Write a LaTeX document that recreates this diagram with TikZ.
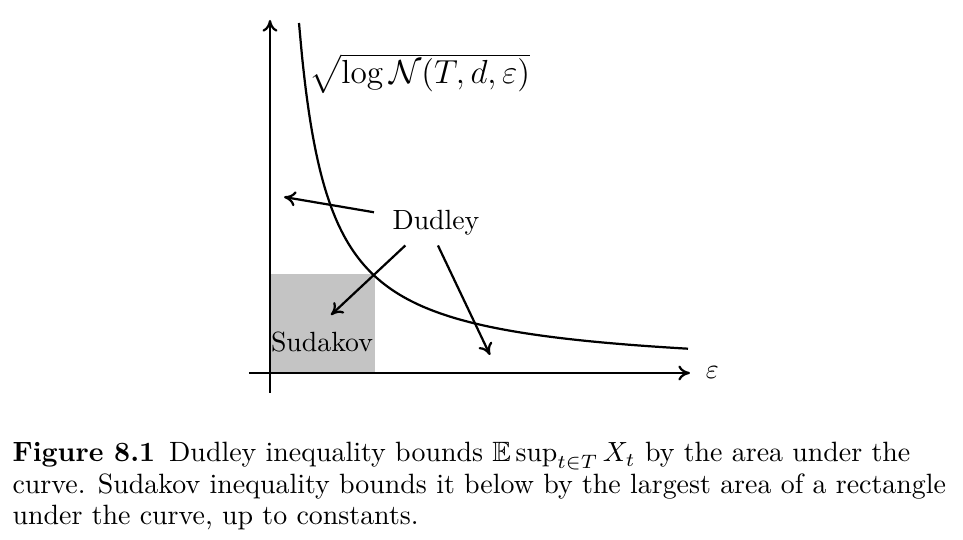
\documentclass[tikz,border=0pt]{standalone}
\usepackage{tikz}
\usepackage{amsmath}
\usepackage{amssymb}
\usepackage{xcolor}
\usetikzlibrary{positioning, arrows.meta, calc}
\definecolor{RectFill}{RGB}{196, 196, 196}
\definecolor{InkDark}{RGB}{0, 0, 0}

\begin{document}
\begin{tikzpicture}[x=0.36pt,y=-0.36pt, pointer/.style={thick, -{To[length=4.2pt, width=5.4pt]}}]
            \useasboundingbox (0,0) rectangle (963,540);
            \fill[RectFill] (270,274) rectangle (375,373);
            \draw[pointer, InkDark] (270,393) -- (270,20);
            \draw[pointer, InkDark] (249,373) -- (690,373) node[right=2pt, font=\fontsize{10.4}{12}\selectfont] (eps) {$\varepsilon$};
            \draw[thick, InkDark, domain=29:418, samples=120, smooth, variable=\t] plot ({270+\t},{373-10150/\t});
            \node[font=\fontsize{11.5}{14}\selectfont, anchor=base west, inner sep=0pt] (entropy) at (309,84) {$\sqrt{\log\mathcal{N}(T,d,\varepsilon)}$};
            \node[font=\fontsize{10}{12}\selectfont, anchor=base, inner sep=0pt] (sudakov) at (322,352) {Sudakov};
            \node[font=\fontsize{10}{12}\selectfont, anchor=base, inner xsep=6.5pt] (dudley) at (436,230) {Dudley};
            \coordinate (tipArea) at (284,197);
            \coordinate (tipRect) at (331,315);
            \coordinate (tipTail) at (490,355);
            \draw[pointer] (dudley.170) -- (tipArea);
            \draw[pointer] (dudley.216) -- (tipRect);
            \draw[pointer] (dudley.275) -- (tipTail);
            \node[font=\fontsize{10.05}{11.2}\selectfont, anchor=north west, align=left, inner sep=0pt] (caption) at (12,442)
                {\textbf{Figure 8.1}\enspace Dudley inequality bounds $\mathbb{E}\sup_{t\in T} X_t$ by the area under the\\
                 curve. Sudakov inequality bounds it below by the largest area of a rectangle\\
                 under the curve, up to constants.};
        \end{tikzpicture}
\end{document}
